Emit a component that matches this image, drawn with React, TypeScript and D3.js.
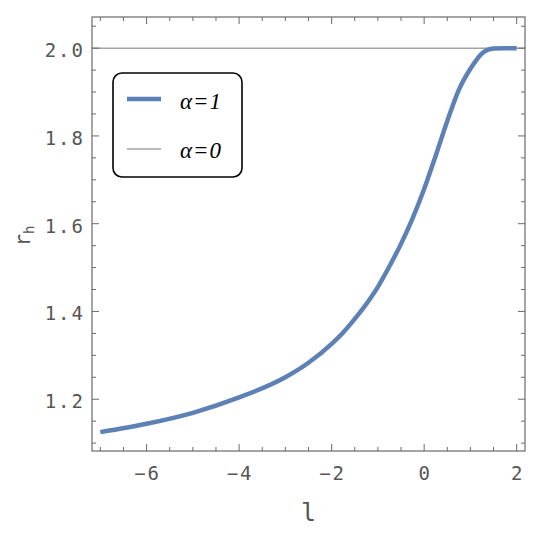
import React from "react";
import * as d3 from "d3";

// values (alpha = 1)
const lValues = [-7, -6, -5, -4, -3, -2.5, -2, -1.75, -1.5, -1.25, -1, -0.75, -0.5, -0.25, 0, 0.25, 0.5, 0.75, 1, 1.25, 1.5, 1.75, 2];
const rValues = [1.125, 1.144, 1.169, 1.204, 1.25, 1.283, 1.326, 1.352, 1.383, 1.417, 1.456, 1.503, 1.554, 1.612, 1.679, 1.755, 1.834, 1.905, 1.953, 1.988, 1.999, 2.0, 2.0];
const baseline = 2.0; // alpha = 0

const xTicks = [-6, -4, -2, 0, 2];
const yTicks = [1.2, 1.4, 1.6, 1.8, 2.0];
const legendLabels = ["α=1", "α=0"];

const W = 550;
const H = 541;
const margin = { top: 17, right: 25, bottom: 90, left: 92 };

const blue = "#5E81B5";
const axisColor = "#6a6a6a";
const labelColor = "#555";
const mono = "'DejaVu Sans Mono', monospace";

export default function App() {
  const x = d3.scaleLinear().domain([-7.18, 2.18]).range([margin.left, W - margin.right]);
  const y = d3.scaleLinear().domain([1.082, 2.071]).range([H - margin.bottom, margin.top]);

  const x0 = x.range()[0], x1 = x.range()[1];
  const y0 = y.range()[0], y1 = y.range()[1];

  const xMinor = d3.range(-7, 2.001, 0.5);
  const yMinor = d3.range(1.1, 2.051, 0.05);

  const pts = lValues.map((l, i) => [l, rValues[i]] as [number, number]);
  const line = d3.line<[number, number]>()
    .x(d => x(d[0]))
    .y(d => y(d[1]))
    .curve(d3.curveMonotoneX);

  const isMajorX = (v: number) => Math.abs(v / 2 - Math.round(v / 2)) < 1e-6;
  const isMajorY = (v: number) => Math.abs(v / 0.2 - Math.round(v / 0.2)) < 1e-6;

  return (
    <svg width={W} height={H} style={{ position: "fixed", left: 0, top: 0, background: "#fff" }}>
      {/* alpha = 0 reference line */}
      <line x1={x0} x2={x1} y1={y(baseline)} y2={y(baseline)} stroke="#777" strokeWidth={1} />

      {/* ticks on all four sides */}
      {xMinor.map(v => {
        const len = isMajorX(v) ? 7 : 4;
        return (
          <g key={"x" + v} stroke={axisColor} strokeWidth={1}>
            <line x1={x(v)} x2={x(v)} y1={y0} y2={y0 - len} />
            <line x1={x(v)} x2={x(v)} y1={y1} y2={y1 + len} />
          </g>
        );
      })}
      {yMinor.map(v => {
        const len = isMajorY(v) ? 7 : 4;
        return (
          <g key={"y" + v} stroke={axisColor} strokeWidth={1}>
            <line x1={x0} x2={x0 + len} y1={y(v)} y2={y(v)} />
            <line x1={x1} x2={x1 - len} y1={y(v)} y2={y(v)} />
          </g>
        );
      })}

      <path d={line(pts) || ""} fill="none" stroke={blue} strokeWidth={4.5} strokeLinecap="butt" />

      <rect x={x0} y={y1} width={x1 - x0} height={y0 - y1} fill="none" stroke={axisColor} strokeWidth={1.2} />

      {/* tick labels */}
      {xTicks.map(v => (
        <text key={"xl" + v} x={x(v) + 1} y={y0 + 29} textAnchor="middle" fontFamily={mono}
          fontSize={19} letterSpacing={2} fill={labelColor}>
          {v < 0 ? "−" + Math.abs(v) : String(v)}
        </text>
      ))}
      {yTicks.map(v => (
        <text key={"yl" + v} x={x0 - 7} y={y(v) + 9} textAnchor="end" fontFamily={mono}
          fontSize={19} letterSpacing={2} fill={labelColor}>
          {v.toFixed(1)}
        </text>
      ))}

      {/* axis labels */}
      <text x={(x0 + x1) / 2} y={521} textAnchor="middle" fontFamily={mono} fontSize={25} fill={labelColor}>l</text>
      <text transform={`translate(30,236) rotate(-90)`} textAnchor="middle" fontFamily={mono} fontSize={21} fill={labelColor}>
        r<tspan fontSize={14} dy={4}>h</tspan>
      </text>

      {/* legend */}
      <rect x={113} y={73} width={129} height={104} rx={9} fill="#fff" stroke="#000" strokeWidth={1.6} />
      <line x1={127} x2={161} y1={99} y2={99} stroke={blue} strokeWidth={4.5} />
      <line x1={127} x2={161} y1={149} y2={149} stroke="#777" strokeWidth={1} />
      {legendLabels.map((t, i) => (
        <text key={t} x={180} y={108.5 + i * 49.5} fontFamily="'Liberation Serif', serif" fontStyle="italic"
          fontSize={23} letterSpacing={1} fill="#000">{t}</text>
      ))}
    </svg>
  );
}
